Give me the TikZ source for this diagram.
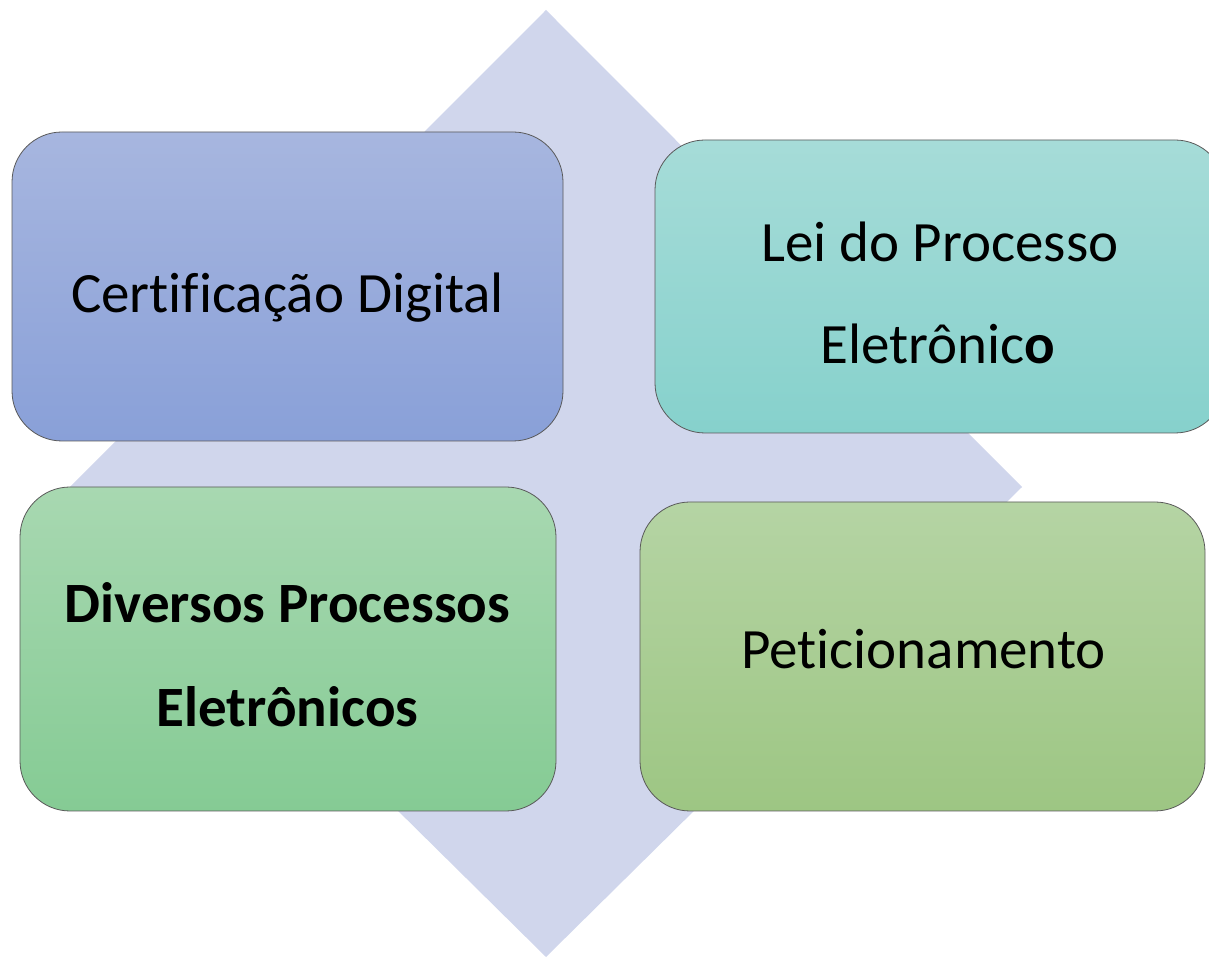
\documentclass[tikz,border=0pt]{standalone}
\usepackage{fontspec}
\setmainfont{Carlito}[Ligatures=NoCommon]
\begin{document}
\begin{tikzpicture}[x=1pt,y=1pt,
  card/.style={draw=black!65, line width=0.8pt, rounded corners=50pt, inner sep=0pt},
  lbl/.style={anchor=base, inner sep=0pt, font=\fontsize{57}{102}\selectfont},
  ]
\useasboundingbox (0,0) rectangle (1209,958);
\clip (0,0) rectangle (1209,958);
\definecolor{diam}{HTML}{D0D6EC}
\definecolor{tlT}{HTML}{A7B6DF}\definecolor{tlB}{HTML}{89A0D8}
\definecolor{trT}{HTML}{A6DCD8}\definecolor{trB}{HTML}{86D1CC}
\definecolor{blT}{HTML}{A8D8B1}\definecolor{blB}{HTML}{85CB94}
\definecolor{brT}{HTML}{B5D4A4}\definecolor{brB}{HTML}{9DC683}
\fill[diam] (546,948) -- (1022,471) -- (546,1) -- (70,471) -- cycle;
\node[card, top color=tlT, bottom color=tlB, minimum width=551pt, minimum height=309pt] (cert) at (287.5,671.5) {};
\node[card, top color=trT, bottom color=trB, minimum width=570pt, minimum height=293pt] (lei) at (940,671.5) {};
\node[card, top color=blT, bottom color=blB, minimum width=536pt, minimum height=324pt] (div) at (288,309) {};
\node[card, top color=brT, bottom color=brB, minimum width=565pt, minimum height=309pt] (pet) at (922.5,301.5) {};
\node[lbl] (certT) at (287.5,645) {Certificação Digital};
\node[lbl] (leiA) at (940,696) {Lei do Processo};
\node[lbl] (leiB) at (938,594) {Eletrônic\textbf{o}};
\node[lbl, font=\fontsize{57}{102}\selectfont\bfseries] (divA) at (287.5,335) {Diversos Processos};
\node[lbl, font=\fontsize{57}{102}\selectfont\bfseries] (divB) at (287.5,231) {Eletrônicos};
\node[lbl] (petT) at (923.5,289) {Peticionamento};
\end{tikzpicture}
\end{document}
